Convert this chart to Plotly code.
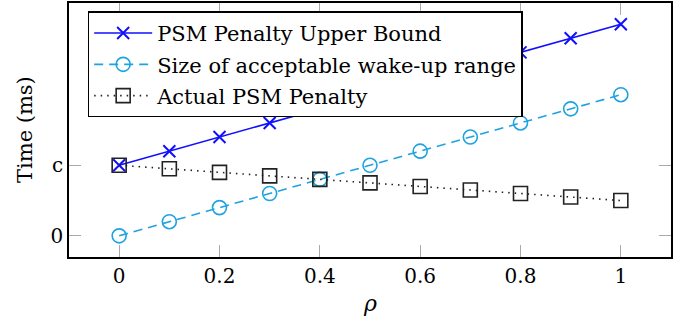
import plotly.graph_objects as go

rho = [0, 0.1, 0.2, 0.3, 0.4, 0.5, 0.6, 0.7, 0.8, 0.9, 1.0]
upper_bound = [1.0, 1.2, 1.4, 1.6, 1.8, 2.0, 2.2, 2.4, 2.6, 2.8, 3.0]
wake_range = [0.0, 0.2, 0.4, 0.6, 0.8, 1.0, 1.2, 1.4, 1.6, 1.8, 2.0]
actual_penalty = [1.0, 0.95, 0.9, 0.85, 0.8, 0.75, 0.7, 0.65, 0.6, 0.55, 0.5]

x_ticks = [0, 0.2, 0.4, 0.6, 0.8, 1]
x_ticktext = ["0", "0.2", "0.4", "0.6", "0.8", "1"]
y_ticks = [0, 1]
y_ticktext = ["0", "c"]

FONT = "DejaVu Serif"
BLUE = "#1010ff"
CYAN = "#1ea3e0"
BLACK = "#222222"

fig = go.Figure()
fig.add_trace(go.Scatter(
    x=rho, y=upper_bound, mode="lines+markers", name="PSM Penalty Upper Bound",
    legendgroup="a",
    line=dict(color=BLUE, width=1.6),
    marker=dict(symbol="x-thin", size=12, line=dict(color=BLUE, width=2)),
))
fig.add_trace(go.Scatter(
    x=rho, y=wake_range, mode="lines+markers", name="Size of acceptable wake-up range",
    legendgroup="b",
    line=dict(color=CYAN, width=1.6, dash="9px,6px"),
    marker=dict(symbol="circle-open", size=14, color=CYAN, line=dict(color=CYAN, width=1.6)),
))
fig.add_trace(go.Scatter(
    x=rho, y=actual_penalty, mode="lines+markers", name="Actual PSM Penalty",
    legendgroup="c",
    line=dict(color=BLACK, width=1.6, dash="1.5px,5px"),
    marker=dict(symbol="square-open", size=14, color=BLACK, line=dict(color=BLACK, width=1.6)),
))

axis_common = dict(
    showline=True, linecolor="black", linewidth=1.5, mirror="allticks",
    ticks="inside", ticklen=12, tickcolor="#aaaaaa", tickwidth=1,
    showgrid=False, zeroline=False, automargin=False,
    tickfont=dict(family=FONT, size=20, color="black"),
)

fig.update_layout(
    width=686, height=317,
    margin=dict(l=69, r=15, t=3, b=60),
    paper_bgcolor="white", plot_bgcolor="white",
    font=dict(family=FONT, color="black"),
    xaxis=dict(range=[-0.1, 1.1], tickvals=x_ticks, ticktext=x_ticktext, **axis_common),
    yaxis=dict(range=[-0.3, 3.3], tickvals=y_ticks, ticktext=y_ticktext, **axis_common),
    legend=dict(x=0.031, y=0.967, xanchor="left", yanchor="top",
                bgcolor="white", bordercolor="black", borderwidth=1.5,
                font=dict(family=FONT, size=21), tracegroupgap=1,
                itemwidth=58),
    showlegend=True,
    annotations=[
        dict(text="<i>ρ</i>", xref="paper", yref="paper", x=0.5, y=0,
             yshift=-46, xanchor="center", yanchor="middle", showarrow=False,
             font=dict(family=FONT, size=22)),
        dict(text="Time (ms)", xref="paper", yref="paper", x=0, y=0.5,
             xshift=-44, xanchor="center", yanchor="middle", showarrow=False,
             textangle=-90, font=dict(family=FONT, size=21)),
    ],
)

fig.write_html("out.html", config={"displayModeBar": False},
               post_script="document.body.style.margin='0px';")
